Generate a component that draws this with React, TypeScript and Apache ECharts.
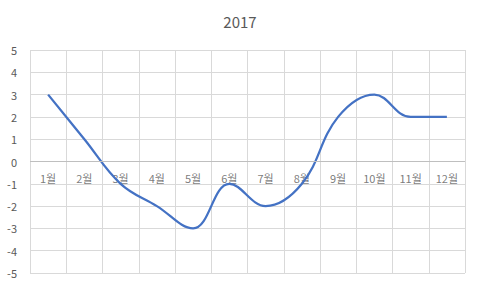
import React, { useEffect, useRef } from "react";
import * as echarts from "echarts";

const categories = ["1월", "2월", "3월", "4월", "5월", "6월", "7월", "8월", "9월", "10월", "11월", "12월"];
const values = [3, 1, -1, -2, -3, -1, -2, -1, 2, 3, 2, 2];
const titleText = "2017";
const yMin = -5;
const yMax = 5;
const yStep = 1;

export default function App() {
  const ref = useRef<HTMLDivElement>(null);
  useEffect(() => {
    document.body.style.margin = "0";
    const chart = echarts.init(ref.current!, null, { renderer: "svg" });
    const font = "'Noto Sans CJK KR', 'Noto Sans', sans-serif";
    chart.setOption({
      animation: false,
      title: {
        text: titleText,
        left: "center",
        top: 9,
        textStyle: { fontSize: 15, fontWeight: "normal", color: "#595959", fontFamily: font },
      },
      grid: { left: 30, right: 15, top: 50, bottom: 15, containLabel: false, outerBoundsMode: "none" },
      xAxis: {
        type: "category",
        data: categories,
        boundaryGap: true,
        axisLine: { show: false },
        axisTick: { show: false },
        axisLabel: { show: false },
        splitLine: { show: true, lineStyle: { color: "#d9d9d9", width: 1 } },
      },
      yAxis: {
        type: "value",
        min: yMin,
        max: yMax,
        interval: yStep,
        axisLine: { show: false },
        axisTick: { show: false },
        axisLabel: { color: "#595959", fontSize: 11, margin: 13, fontFamily: font },
        splitLine: { show: true, lineStyle: { color: "#d9d9d9", width: 1 } },
      },
      series: [
        {
          type: "scatter",
          data: categories.map((c) => [c, 0]),
          symbolSize: 0,
          silent: true,
          label: {
            show: true,
            position: "bottom",
            distance: 11,
            formatter: (p: any) => p.value[0],
            color: "#595959",
            fontSize: 11,
            fontFamily: font,
          },
          markLine: {
            silent: true,
            symbol: "none",
            label: { show: false },
            lineStyle: { color: "#bfbfbf", width: 1, type: "solid" },
            data: [{ yAxis: 0 }],
          },
        },
        {
          type: "line",
          data: values,
          smooth: 0.4,
          showSymbol: false,
          symbol: "none",
          lineStyle: { color: "#4472C4", width: 2.25 },
        },
      ],
    });
    return () => chart.dispose();
  }, []);
  return <div ref={ref} style={{ width: 480, height: 288 }} />;
}
